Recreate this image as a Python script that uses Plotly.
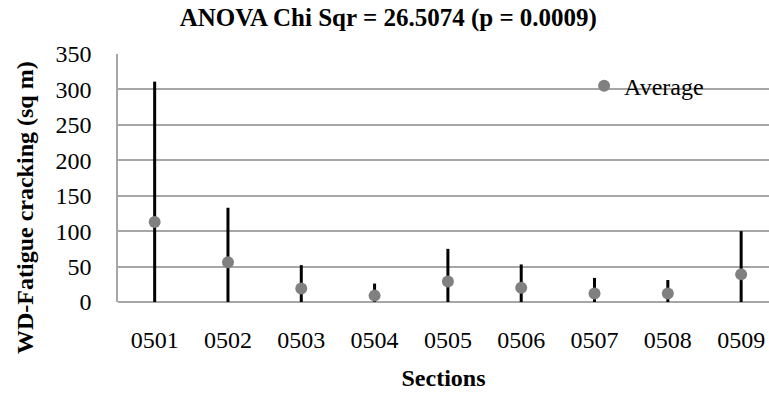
import plotly.graph_objects as go

sections = ["0501", "0502", "0503", "0504", "0505", "0506", "0507", "0508", "0509"]
max_vals = [311, 133, 52, 26, 75, 53, 34, 31, 100]
min_vals = [0, 0, 0, 0, 0, 0, 0, 0, 0]
avg_vals = [113, 56, 19, 9, 29, 20, 12, 12, 39]

FONT = "Liberation Serif"

xs, ys = [], []
for s, lo, hi in zip(sections, min_vals, max_vals):
    xs += [s, s, None]
    ys += [lo, hi, None]

fig = go.Figure()
fig.add_trace(go.Scatter(x=xs, y=ys, mode="lines",
                         line=dict(color="black", width=3),
                         showlegend=False, hoverinfo="skip"))
fig.add_trace(go.Scatter(x=sections, y=avg_vals, mode="markers", name="Average",
                         marker=dict(color="#808080", size=12, symbol="circle")))

fig.update_layout(
    width=769, height=394,
    margin=dict(l=118, r=0, t=54, b=92),
    paper_bgcolor="white", plot_bgcolor="white",
    title=dict(text="<b>ANOVA Chi Sqr = 26.5074 (p = 0.0009)</b>",
               font=dict(family=FONT, size=25, color="black"),
               x=0.505, xanchor="center", y=0.955, yanchor="middle"),
    font=dict(family=FONT, color="black"),
    legend=dict(x=0.716, y=0.87, xanchor="left", yanchor="middle",
                font=dict(family=FONT, size=24, color="black"),
                bgcolor="rgba(0,0,0,0)", itemwidth=30),
    xaxis=dict(type="category", categoryorder="array", categoryarray=sections,
               range=[-0.5, 8.38], showgrid=False, showline=False, zeroline=False,
               ticks="", tickfont=dict(family=FONT, size=24, color="black"),
               ticklabelstandoff=21,
               title=dict(text="<b>Sections</b>", font=dict(family=FONT, size=24, color="black"),
                          standoff=17)),
    yaxis=dict(range=[0, 350], dtick=50, showgrid=True, gridcolor="#a6a6a6", gridwidth=1.5,
               zeroline=True, zerolinecolor="#a6a6a6", zerolinewidth=1.5,
               showline=True, linecolor="#a6a6a6", linewidth=1.5,
               ticks="", tickfont=dict(family=FONT, size=24, color="black"),
               ticklabelstandoff=20),
    annotations=[dict(text="<b>WD-Fatigue cracking (sq m)</b>", textangle=-90,
                      xref="paper", yref="paper", x=-0.1429, y=0.383,
                      xanchor="center", yanchor="middle", showarrow=False,
                      font=dict(family=FONT, size=24, color="black"))],
)

fig.write_html("out.html")
